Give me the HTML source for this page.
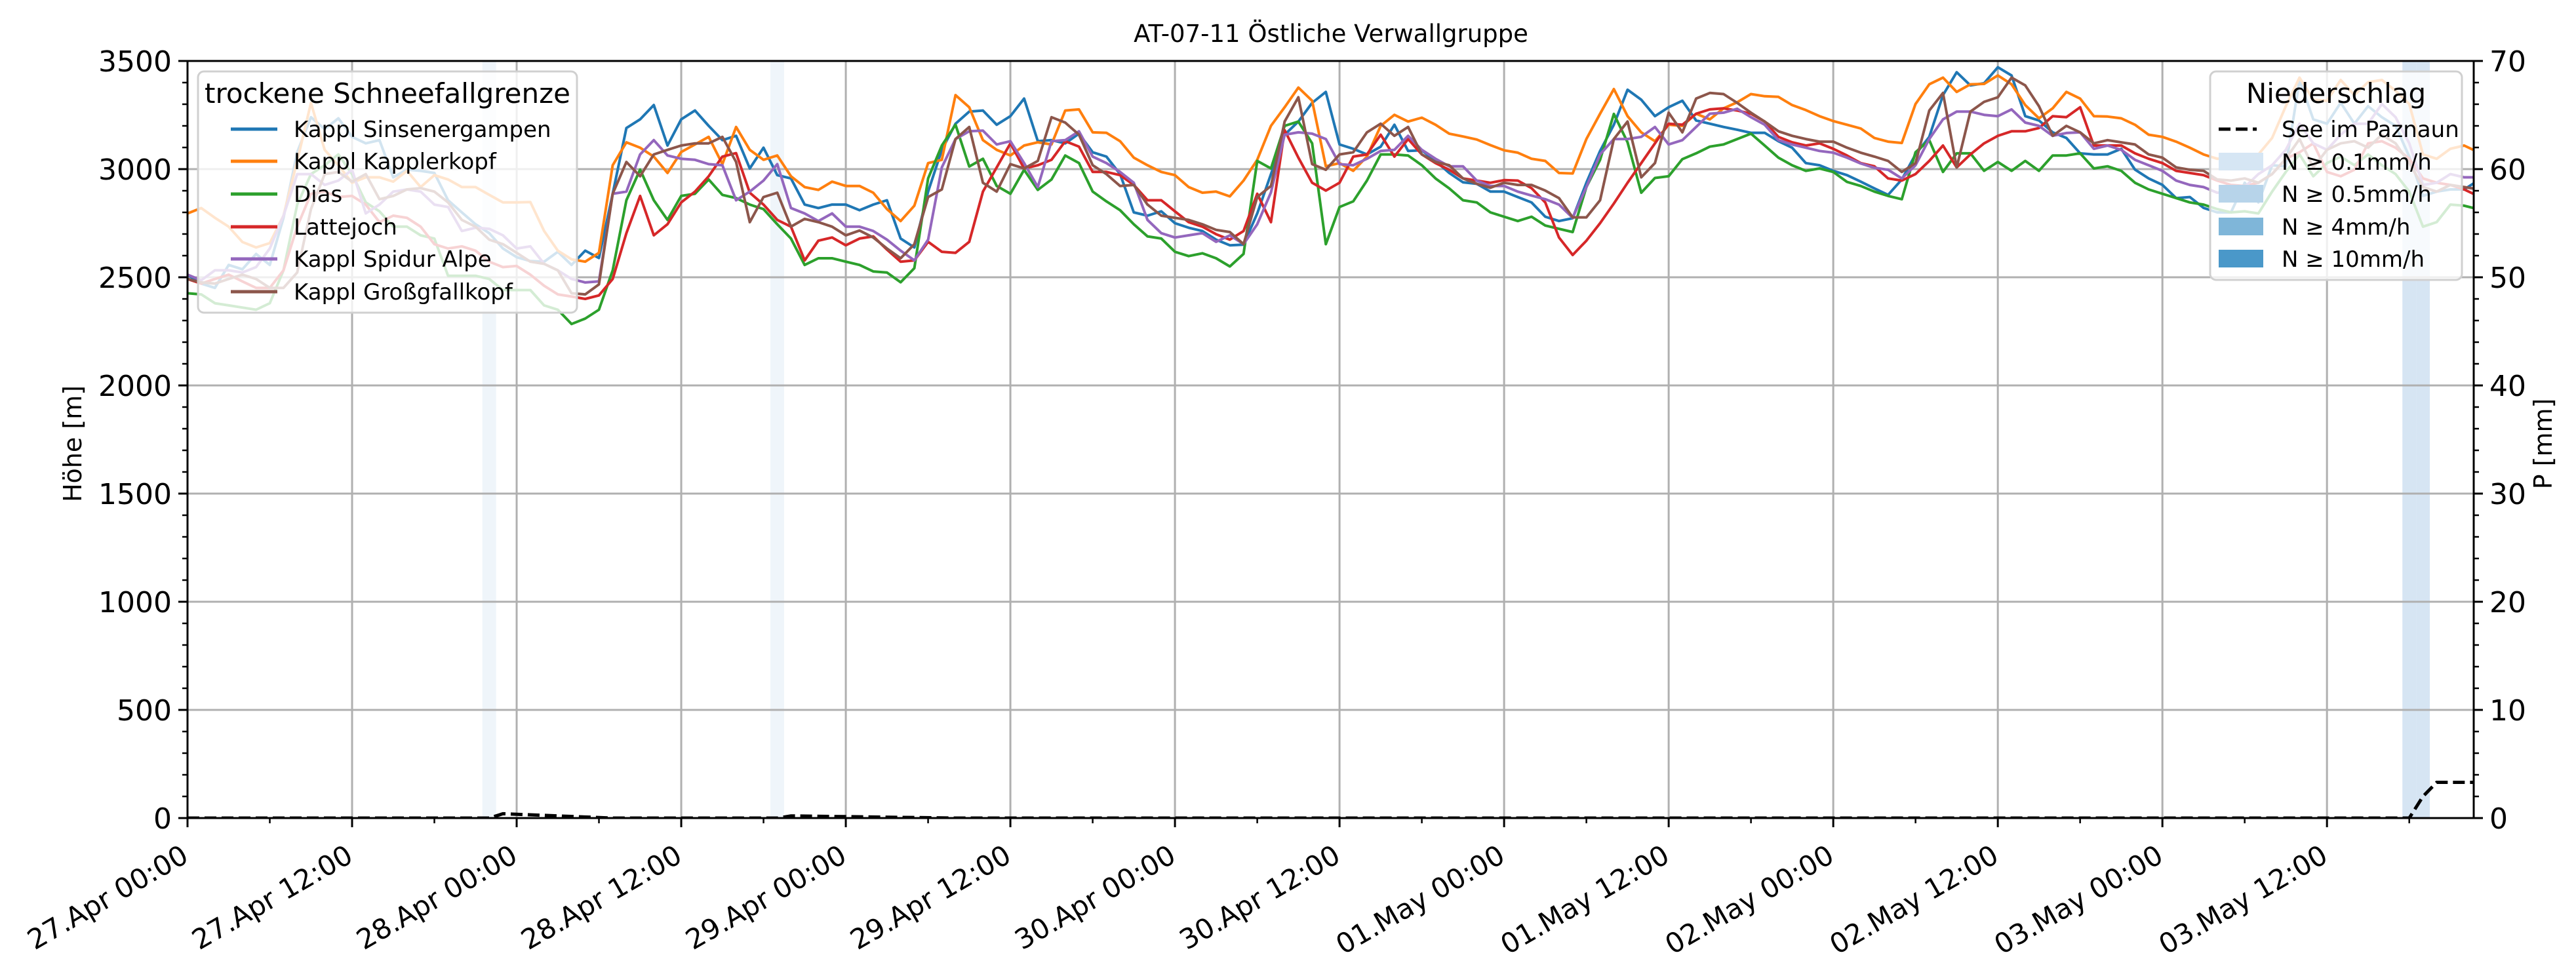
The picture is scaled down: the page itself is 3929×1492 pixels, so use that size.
<!DOCTYPE html>
<html><head><meta charset="utf-8"><style>
html,body{margin:0;padding:0;background:#fff}
svg text{font-family:"DejaVu Sans","Liberation Sans",sans-serif}
</style></head><body>
<svg id="chart" xmlns="http://www.w3.org/2000/svg" width="3929" height="1487" viewBox="0 0 3929 1487">
<rect x="0" y="0" width="3929" height="1487" fill="#fff"/>
<g id="bands"></g>
<g id="grid"></g>
<g id="series"></g>
<g id="axes"></g>
<text x="2030" y="64" text-anchor="middle" font-size="37">AT-07-11 Östliche Verwallgruppe</text>
<text transform="translate(124,677) rotate(-90)" text-anchor="middle" font-size="38">Höhe [m]</text>
<text transform="translate(3892,677) rotate(-90)" text-anchor="middle" font-size="38">P [mm]</text>
<g id="legend-left">
<rect x="302" y="109" width="578" height="368" rx="9" fill="#fff" fill-opacity="0.8" stroke="#d0d0d0" stroke-width="3"/>
<text x="591" y="157" text-anchor="middle" font-size="42">trockene Schneefallgrenze</text>
</g>
<g id="legend-right">
<rect x="3371" y="109" width="384" height="318" rx="9" fill="#fff" fill-opacity="0.8" stroke="#d0d0d0" stroke-width="3"/>
<text x="3563" y="157" text-anchor="middle" font-size="42">Niederschlag</text>
<line x1="3384" y1="197" x2="3442" y2="197" stroke="#000" stroke-width="5" stroke-dasharray="18,8"/>
<text x="3480" y="209" font-size="34">See im Paznaun</text>
<rect x="3384" y="233" width="68" height="27" fill="#d6e6f4"/>
<text x="3480" y="259" font-size="34">N ≥ 0.1mm/h</text>
<rect x="3384" y="282" width="68" height="27" fill="#b7d4ea"/>
<text x="3480" y="308" font-size="34">N ≥ 0.5mm/h</text>
<rect x="3384" y="332" width="68" height="27" fill="#7fb6d9"/>
<text x="3480" y="358" font-size="34">N ≥ 4mm/h</text>
<rect x="3384" y="381" width="68" height="27" fill="#4a98c9"/>
<text x="3480" y="407" font-size="34">N ≥ 10mm/h</text>
</g>
</svg>
<script>
const seriesNames = ["Kappl Sinsenergampen","Kappl Kapplerkopf","Dias","Lattejoch","Kappl Spidur Alpe","Kappl Großgfallkopf"];
const seriesColors = ["#1f77b4","#ff7f0e","#2ca02c","#d62728","#9467bd","#8c564b"];
const sinsenergampen = [2512,2471,2451,2557,2537,2608,2557,2775,3078,3240,3185,3235,3149,3119,3134,2962,2998,2992,2982,2856,2800,2745,2704,2633,2593,2575,2572,2618,2557,2623,2589,2886,3190,3230,3296,3109,3230,3271,3200,3134,3154,3003,
3099,2972,2957,2836,2820,2836,2836,2810,2836,2856,2679,2638,2896,3089,3210,3266,3271,3205,3245,3326,3129,3134,3119,3164,3078,3058,2977,2800,2785,2805,2750,2729,2714,2674,2648,2651,2795,2977,3159,3220,3306,3357,
3114,3094,3068,3104,3205,3084,3087,3038,2982,2939,2932,2896,2896,2871,2846,2780,2760,2773,2937,3084,3205,3367,3321,3245,3286,3316,3225,3210,3195,3182,3168,3168,3129,3099,3028,3018,2992,2972,2942,2911,2881,2952,
3068,3149,3342,3448,3387,3397,3471,3433,3245,3225,3170,3144,3073,3068,3068,3094,2998,2957,2927,2866,2871,2821,2800,2800,2937,2846,3018,3013,3412,3230,3210,3307,3210,3291,3240,3200,3058,2876,2896,2906,2906,2947];
const kapplerkopf = [2795,2820,2775,2734,2663,2638,2658,2785,3038,3306,3089,3018,2937,2962,2962,2942,2992,2917,2972,2952,2917,2917,2881,2846,2846,2848,2714,2623,2583,2572,2613,3018,3124,3099,3058,2982,3079,3114,3149,3023,3195,3089,
3043,3063,2967,2917,2904,2942,2922,2922,2891,2815,2760,2831,3028,3043,3342,3286,3134,3089,3063,3109,3124,3114,3271,3276,3170,3168,3129,3053,3018,2987,2972,2917,2891,2896,2874,2947,3043,3200,3286,3377,3316,3013,
3028,2992,3058,3200,3251,3220,3238,3205,3164,3151,3137,3111,3087,3076,3048,3038,2982,2980,3139,3256,3370,3245,3170,3129,3205,3200,3256,3230,3281,3309,3347,3337,3334,3296,3273,3245,3222,3205,3188,3144,3127,3121,
3301,3392,3423,3357,3392,3394,3433,3392,3296,3235,3281,3357,3326,3245,3243,3235,3205,3159,3149,3127,3099,3068,3048,3053,3048,3068,3144,3291,3423,3321,3316,3412,3342,3402,3412,3362,3301,3068,3048,3094,3109,3079];
const dias = [2426,2421,2380,2370,2360,2350,2380,2532,2836,2977,3018,3068,2977,2846,2805,2734,2734,2694,2679,2507,2507,2507,2492,2441,2441,2441,2370,2350,2284,2309,2350,2532,2856,2998,2856,2765,2876,2886,2952,2881,2866,2836,
2815,2745,2679,2557,2588,2588,2572,2557,2527,2522,2477,2542,2957,3109,3205,3012,3048,2922,2886,2997,2904,2952,3063,3028,2896,2851,2810,2745,2689,2679,2618,2598,2611,2588,2550,2608,3038,3003,3200,3220,3119,2653,
2825,2851,2947,3068,3068,3063,3018,2957,2911,2856,2846,2800,2780,2760,2780,2739,2724,2709,2917,3043,3255,3124,2891,2959,2967,3046,3073,3104,3114,3139,3164,3109,3053,3018,2992,3003,2987,2941,2922,2896,2876,2861,
3078,3134,2987,3073,3073,2992,3033,2992,3038,2992,3063,3063,3073,3003,3013,2992,2937,2906,2886,2866,2846,2836,2815,2800,2805,2795,2896,2987,3068,2967,3028,3058,3018,3068,3018,2977,2896,2734,2755,2836,2831,2815];
const lattejoch = [2492,2471,2492,2512,2481,2451,2451,2532,2734,2886,2896,2871,2876,2836,2755,2785,2775,2734,2653,2633,2643,2623,2572,2547,2552,2512,2461,2421,2411,2400,2416,2492,2704,2876,2694,2745,2846,2896,2967,3058,3074,2891,
2836,2765,2734,2578,2669,2684,2648,2679,2689,2628,2572,2578,2664,2618,2613,2664,2896,3008,3119,3003,3018,3043,3129,3104,2987,2987,2972,2927,2856,2856,2805,2755,2734,2699,2674,2714,2886,2755,3180,3053,2937,2901,
2937,3058,3068,3159,3058,3139,3068,3028,2997,2957,2947,2937,2949,2947,2912,2846,2684,2603,2669,2750,2841,2937,3028,3119,3210,3205,3256,3276,3281,3271,3256,3220,3149,3124,3109,3119,3094,3063,3028,3013,2957,2947,
2977,3038,3109,3008,3068,3119,3154,3175,3175,3190,3245,3240,3286,3109,3109,3109,3073,3048,3028,2992,2982,2972,2947,2927,2922,2937,2977,3048,3078,3119,2987,2967,2997,3119,3129,3099,3048,2957,2937,2927,2906,2876];
const spidurAlpe = [2512,2486,2532,2532,2522,2547,2633,2785,2977,2977,2927,2947,2997,2795,2836,2896,2906,2896,2836,2825,2714,2729,2724,2694,2633,2643,2562,2532,2492,2476,2481,2886,2896,3068,3134,3063,3048,3043,3023,3018,2856,2896,
2947,3023,2820,2795,2760,2795,2734,2734,2714,2674,2623,2578,2674,3008,3139,3175,3178,3114,3129,3028,2917,3129,3134,3175,3058,3028,2987,2937,2765,2704,2684,2694,2704,2664,2694,2653,2745,2892,3159,3170,3164,3139,
3023,3018,3048,3084,3089,3154,3089,3048,3013,3013,2947,2922,2922,2896,2878,2861,2836,2775,2917,3068,3139,3139,3149,3195,3114,3134,3195,3256,3261,3279,3240,3205,3134,3114,3099,3084,3076,3053,3026,3006,2997,2957,
3018,3139,3230,3266,3266,3251,3245,3276,3215,3200,3154,3167,3170,3094,3109,3089,3043,3018,2992,2947,2927,2917,2891,2896,2917,2977,3018,3089,3210,3119,3089,3159,3210,3210,3301,3240,3119,2927,2937,2977,2962,2962];
const grossgfallkopf = [2492,2476,2471,2492,2512,2492,2451,2451,2522,2815,2977,2987,2942,2977,2861,2876,2906,2912,2896,2846,2765,2734,2674,2653,2613,2572,2562,2532,2426,2421,2467,2886,3033,2967,3068,3089,3109,3119,3119,3149,3033,2755,
2871,2891,2734,2770,2755,2734,2694,2716,2684,2633,2588,2653,2871,2906,3139,3195,2937,2896,3023,3003,3038,3240,3215,3159,3018,2977,2922,2927,2836,2785,2775,2765,2745,2719,2709,2653,2871,2922,3220,3332,3023,2997,
3068,3078,3170,3210,3154,3195,3068,3033,3018,2957,2932,2914,2937,2927,2927,2901,2866,2777,2777,2856,3139,3220,2962,3028,3261,3170,3326,3352,3347,3306,3261,3220,3175,3154,3139,3127,3127,3099,3076,3058,3038,2987,
3028,3271,3352,3008,3266,3311,3332,3423,3387,3291,3154,3200,3170,3119,3134,3124,3114,3068,3053,3008,2997,2992,2952,2947,2957,2937,2977,3048,3139,3008,3089,3119,3129,3099,3159,3119,3028,2917,2896,2927,2917,2907];
const precipHours = [0,22,23,31,43,44,56,161,162,163,164,167];
const precipValues = [0,0,0.4,0,0,0.2,0,0,0,2.0,3.3,3.3];
const bandHours = [22,43,162,163];
const bandStrength = [0.4,0.4,1,1];
const xTickLabels = ["27.Apr 00:00","27.Apr 12:00","28.Apr 00:00","28.Apr 12:00","29.Apr 00:00","29.Apr 12:00","30.Apr 00:00","30.Apr 12:00","01.May 00:00","01.May 12:00","02.May 00:00","02.May 12:00","03.May 00:00","03.May 12:00"];
const yTicks = [0,500,1000,1500,2000,2500,3000,3500];
const y2Ticks = [0,10,20,30,40,50,60,70];

const NS="http://www.w3.org/2000/svg";
const L=286,R=3773,T=93,B=1248,XMAX=166.7;
function X(h){return L+(R-L)*h/XMAX;}
function Y(v){return B-(B-T)*v/3500;}
function Y2(p){return B-(B-T)*p/70;}
function mk(tag,attrs,parent){const e=document.createElementNS(NS,tag);for(const k in attrs)e.setAttribute(k,attrs[k]);parent.appendChild(e);return e;}

const svg=document.getElementById('chart');
const defs=mk('defs',{},svg);
const cp=mk('clipPath',{id:'plotclip'},defs);
mk('rect',{x:L,y:T,width:R-L,height:B-T},cp);

const bandsG=document.getElementById('bands');
bandHours.forEach((h,i)=>{
  const r=mk('rect',{x:X(h)-(R-L)/XMAX/2,y:T,width:(R-L)/XMAX,height:B-T,fill:'#c6dbef','fill-opacity':0.72*bandStrength[i]},bandsG);
  
  
});

const gridG=document.getElementById('grid');
xTickLabels.forEach((lab,i)=>{
  const x=X(i*12);
  const g=mk('line',{x1:x,y1:T,x2:x,y2:B,stroke:'#b0b0b0','stroke-width':3},gridG);
  
  
});
yTicks.forEach(v=>{
  const g=mk('line',{x1:L,y1:Y(v),x2:R,y2:Y(v),stroke:'#b0b0b0','stroke-width':3},gridG);
  
  
});

const seriesG=document.getElementById('series');
seriesG.setAttribute('clip-path','url(#plotclip)');
const allSeries=[sinsenergampen,kapplerkopf,dias,lattejoch,spidurAlpe,grossgfallkopf];
allSeries.forEach((arr,si)=>{
  const d=arr.map((v,h)=>(h?'L':'M')+X(h).toFixed(1)+','+Y(v).toFixed(1)).join('');
  const p=mk('path',{d:d,fill:'none',stroke:seriesColors[si],'stroke-width':4,'stroke-linejoin':'round'},seriesG);
  
  
});
const pd=precipHours.map((h,i)=>(i?'L':'M')+X(h).toFixed(1)+','+Y2(precipValues[i]).toFixed(1)).join('');
const pl=mk('path',{d:pd,fill:'none',stroke:'#000','stroke-width':5,'stroke-dasharray':'18,8'},seriesG);



const axG=document.getElementById('axes');
const frame=mk('rect',{x:L,y:T,width:R-L,height:B-T,fill:'none',stroke:'#000','stroke-width':3},axG);


for(let v=0;v<=3500;v+=100){
  const major=v%500===0;
  const t=mk('line',{x1:L,y1:Y(v),x2:L-(major?14:8),y2:Y(v),stroke:'#000','stroke-width':major?3:2.5},axG);
  
  
}
yTicks.forEach(v=>{
  const t=mk('text',{x:L-24,y:Y(v)+16,'text-anchor':'end','font-size':44},axG);
  t.textContent=String(v);
  
  
});
for(let p=0;p<=70;p+=2){
  const major=p%10===0;
  const t=mk('line',{x1:R,y1:Y2(p),x2:R+(major?14:8),y2:Y2(p),stroke:'#000','stroke-width':major?3:2.5},axG);
  
  
}
y2Ticks.forEach(p=>{
  const t=mk('text',{x:R+24,y:Y2(p)+16,'text-anchor':'start','font-size':44},axG);
  t.textContent=String(p);
  
  
});
for(let h=0;h<=XMAX;h+=6){
  const major=h%12===0;
  const t=mk('line',{x1:X(h),y1:B,x2:X(h),y2:B+(major?14:8),stroke:'#000','stroke-width':major?3:2.5},axG);
  
  
}
xTickLabels.forEach((lab,i)=>{
  const x=X(i*12)+4;
  const t=mk('text',{transform:'translate('+x+',1313) rotate(-30)','text-anchor':'end','font-size':42},axG);
  t.textContent=lab;
  
  
});

const lg=document.getElementById('legend-left');
const rowY=[197,246,296,346,395,445];
seriesNames.forEach((n,i)=>{
  const l=mk('line',{x1:352,y1:rowY[i],x2:423,y2:rowY[i],stroke:seriesColors[i],'stroke-width':5},lg);
  
  
  const t=mk('text',{x:448,y:rowY[i]+12,'font-size':34},lg);
  t.textContent=n;
  
  
});
</script>
</body></html>
